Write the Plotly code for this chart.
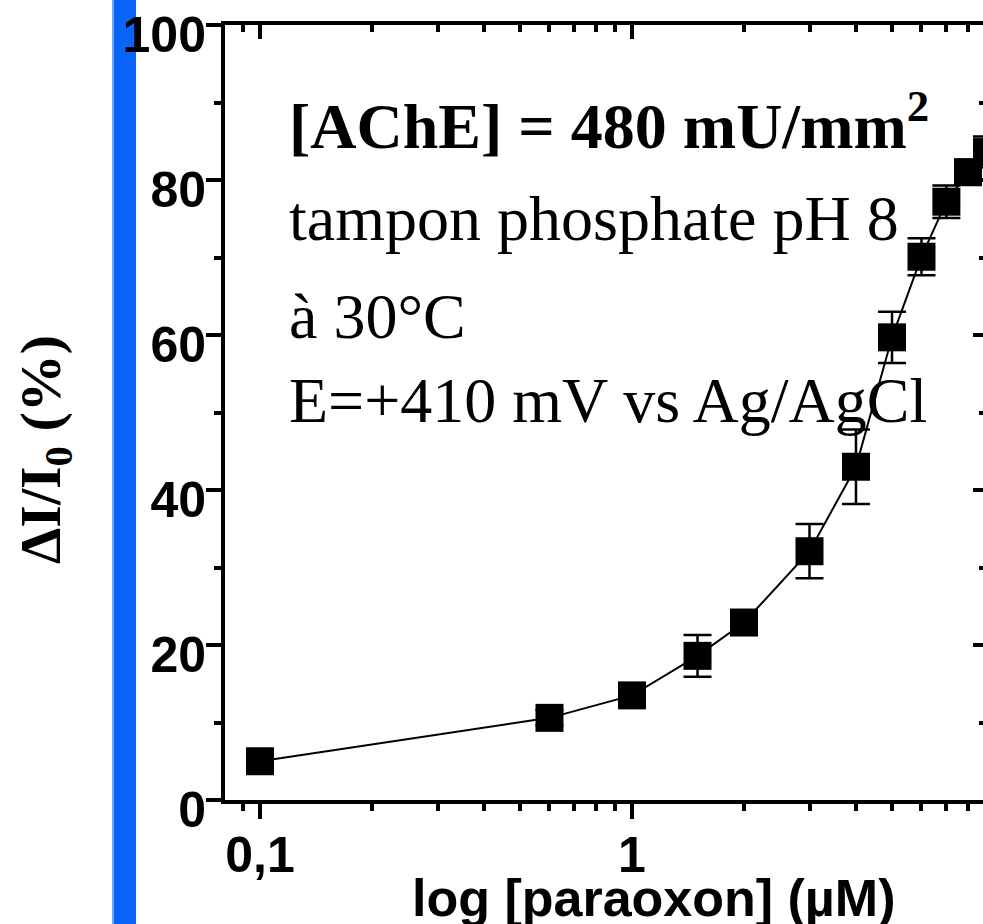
import math
import plotly.graph_objects as go

# ---- data ----
conc_uM = [0.1, 0.6, 1.0, 1.5, 2.0, 3.0, 4.0, 5.0, 6.0, 7.0, 8.0, 9.0]
inhibition_pct = [5.0, 10.6, 13.5, 18.6, 22.9, 32.1, 43.0, 59.7, 70.1, 77.2, 81.0, 83.6]
inhibition_err = [1.2, 1.0, 1.0, 2.7, 1.2, 3.5, 4.8, 3.3, 2.4, 2.1, 1.6, 2.0]

x_major_ticks = [0.1, 1]
x_major_labels = ["0,1", "1"]
x_minor_ticks = [0.09, 0.2, 0.3, 0.4, 0.5, 0.6, 0.7, 0.8, 0.9, 2, 3, 4, 5, 6, 7, 8, 9]
y_major_ticks = [0, 20, 40, 60, 80, 100]
y_minor_ticks = [10, 30, 50, 70, 90]

info_lines = [
    "<b>[AChE] = 480 mU/mm<sup>2</sup></b>",
    "tampon phosphate pH 8",
    "à 30°C",
    "E=+410 mV vs Ag/AgCl",
]

# ---- layout geometry ----
W, H = 983, 924
L, R, T, B = 225, 0, 25, 124
PW, PH = W - L - R, H - T - B
XRANGE = [-1.0941, 0.9435]
YRANGE = [0, 100]

SANS = "Liberation Sans, Arial, Helvetica, sans-serif"
SERIF = "Liberation Serif, Times New Roman, serif"


def px_to_paper_x(px):
    return (px - L) / PW


def px_to_paper_y(py):
    return (H - B - py) / PH


fig = go.Figure()

fig.add_trace(go.Scatter(
    x=conc_uM, y=inhibition_pct,
    mode="lines+markers",
    line=dict(color="black", width=2),
    marker=dict(symbol="square", size=28, color="black", line=dict(width=0)),
    error_y=dict(type="data", array=inhibition_err, visible=True,
                 color="black", thickness=2.5, width=14),
    showlegend=False, hoverinfo="x+y",
))

# dummy trace for the mirrored (inside-tick) axes
fig.add_trace(go.Scatter(x=[], y=[], xaxis="x2", yaxis="y2",
                         showlegend=False, hoverinfo="skip"))

fig.update_layout(
    width=W, height=H,
    margin=dict(l=L, r=R, t=T, b=B, pad=0),
    paper_bgcolor="white", plot_bgcolor="white",
    xaxis=dict(
        type="log", range=XRANGE,
        showline=True, linecolor="black", linewidth=4, mirror=True,
        showgrid=False, zeroline=False,
        ticks="outside", ticklen=15, tickwidth=4, tickcolor="black",
        tickmode="array", tickvals=x_major_ticks, ticktext=x_major_labels,
        tickfont=dict(family=SANS, size=50, color="black", weight="bold"),
        ticklabelstandoff=-7, ticklabeloverflow="allow",
        minor=dict(ticks="outside", ticklen=7, tickwidth=4, tickcolor="black",
                   tickmode="array", tickvals=x_minor_ticks, showgrid=False),
    ),
    xaxis2=dict(
        type="log", range=XRANGE, overlaying="x", side="top", anchor="y",
        showline=False, showgrid=False, zeroline=False,
        ticks="inside", ticklen=14, tickwidth=4, tickcolor="black",
        tickmode="array", tickvals=x_major_ticks, showticklabels=False,
        minor=dict(ticks="inside", ticklen=7, tickwidth=4, tickcolor="black",
                   tickmode="array", tickvals=x_minor_ticks, showgrid=False),
    ),
    yaxis=dict(
        range=YRANGE,
        showline=True, linecolor="black", linewidth=4,
        showgrid=False, zeroline=False,
        ticks="outside", ticklen=15, tickwidth=4, tickcolor="black",
        tickmode="array", tickvals=y_major_ticks,
        tickfont=dict(family=SANS, size=50, color="black", weight="bold"),
        ticklabelshift=9, ticklabelstandoff=-10, ticklabeloverflow="allow",
        minor=dict(ticks="outside", ticklen=7, tickwidth=4, tickcolor="black",
                   tickmode="array", tickvals=y_minor_ticks, showgrid=False),
    ),
    yaxis2=dict(
        range=YRANGE, overlaying="y", side="right", anchor="x",
        showline=False, showgrid=False, zeroline=False,
        ticks="inside", ticklen=10, tickwidth=4, tickcolor="black",
        tickmode="array", tickvals=y_major_ticks, showticklabels=False,
        minor=dict(ticks="inside", ticklen=4, tickwidth=4, tickcolor="black",
                   tickmode="array", tickvals=y_minor_ticks, showgrid=False),
    ),
)

# blue vertical band on the left
fig.add_shape(type="rect", xref="paper", yref="paper", layer="below",
              x0=px_to_paper_x(112), x1=px_to_paper_x(136),
              y0=px_to_paper_y(H + 5), y1=px_to_paper_y(-5),
              fillcolor="#0a64fa", line=dict(width=0))
fig.add_shape(type="rect", xref="paper", yref="paper", layer="below",
              x0=px_to_paper_x(112), x1=px_to_paper_x(114),
              y0=px_to_paper_y(H + 5), y1=px_to_paper_y(-5),
              fillcolor="#6fa8ff", line=dict(width=0))

# info text block
line_centers = [121, 218, 316, 400]
for txt, cy in zip(info_lines, line_centers):
    fig.add_annotation(text=txt, xref="paper", yref="paper",
                       x=px_to_paper_x(287), y=px_to_paper_y(cy),
                       xanchor="left", yanchor="middle", showarrow=False,
                       font=dict(family=SERIF, size=64, color="black"))

# axis titles
fig.add_annotation(text="log [paraoxon] (µM)", xref="paper", yref="paper",
                   x=px_to_paper_x(653), y=px_to_paper_y(898),
                   xanchor="center", yanchor="middle", showarrow=False,
                   font=dict(family=SANS, size=52, color="black", weight="bold"))
fig.add_annotation(text="ΔI/I<sub>0</sub> (%)", xref="paper", yref="paper",
                   x=px_to_paper_x(45), y=px_to_paper_y(450),
                   xanchor="center", yanchor="middle", showarrow=False,
                   textangle=-90,
                   font=dict(family=SERIF, size=58, color="black", weight="bold"))

fig.write_html("out.html")
